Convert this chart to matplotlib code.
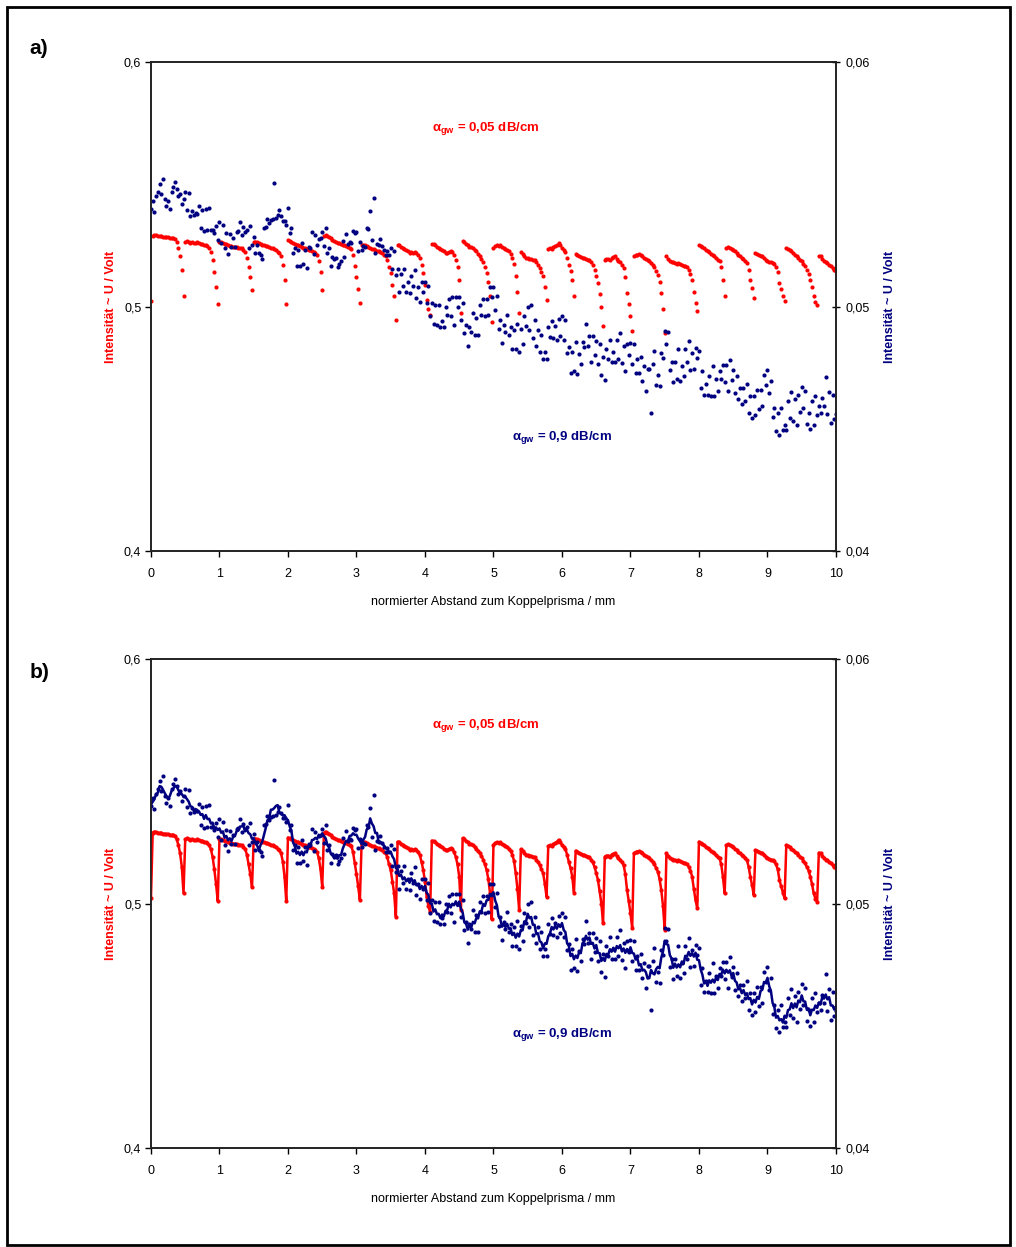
import numpy as np
import pandas as pd
import matplotlib
matplotlib.use('Agg')
import matplotlib.pyplot as plt

plt.rcParams['font.family'] = ['Liberation Sans', 'DejaVu Sans']
plt.rcParams['mathtext.fontset'] = 'custom'
plt.rcParams['mathtext.rm'] = 'Liberation Sans:bold'
plt.rcParams['mathtext.it'] = 'Liberation Sans:bold'
plt.rcParams['mathtext.bf'] = 'Liberation Sans:bold'

RED = '#ff0000'
NAVY = '#000080'

# Abstand zwischen zwei Messpunkten in mm
x_step = 0.025

# alpha_gw = 0,05 dB/cm, linke Achse, Einheit 0,1 mV
red_raw = [
    5024,
    5290, 5294, 5292, 5290, 5288, 5289, 5286, 5285, 5283, 5284, 5282, 5280, 5281, 5276, 5262, 5240, 5205, 5150, 5042,
    5262, 5266, 5263, 5260, 5264, 5261, 5258, 5262, 5259, 5256, 5257, 5253, 5250, 5246, 5238, 5222, 5190, 5140, 5080, 5010,
    5265, 5262, 5258, 5256, 5254, 5250, 5247, 5248, 5245, 5242, 5243, 5240, 5241, 5238, 5232, 5224, 5200, 5160, 5120, 5066,
    5262, 5265, 5262, 5258, 5255, 5252, 5250, 5248, 5246, 5244, 5240, 5238, 5234, 5230, 5224, 5218, 5205, 5171, 5110, 5011,
    5270, 5266, 5262, 5258, 5255, 5252, 5250, 5247, 5244, 5240, 5238, 5236, 5232, 5230, 5226, 5222, 5218, 5210, 5185, 5140, 5069,
    5288, 5294, 5290, 5285, 5279, 5273, 5268, 5264, 5261, 5258, 5256, 5252, 5250, 5247, 5244, 5240, 5236, 5210, 5165, 5120, 5070, 5014,
    5250, 5253, 5250, 5246, 5243, 5240, 5236, 5234, 5230, 5228, 5226, 5222, 5218, 5212, 5205, 5190, 5160, 5137, 5090, 5042, 4946,
    5253, 5250, 5245, 5240, 5236, 5232, 5226, 5220, 5222, 5218, 5221, 5219, 5210, 5198, 5170, 5137, 5090, 5028, 4990, 4966,
    5257, 5255, 5250, 5245, 5240, 5235, 5230, 5225, 5220, 5218, 5222, 5226, 5224, 5210, 5191, 5160, 5110, 4973,
    5267, 5262, 5255, 5250, 5245, 5242, 5239, 5232, 5225, 5215, 5205, 5195, 5180, 5160, 5137, 5100, 5042, 4935,
    5240, 5248, 5250, 5246, 5250, 5244, 5240, 5236, 5232, 5225, 5215, 5200, 5175, 5124, 5060, 4975,
    5222, 5215, 5208, 5200, 5198, 5196, 5194, 5192, 5190, 5180, 5170, 5157, 5140, 5124, 5080, 5028,
    5235, 5238, 5236, 5242, 5248, 5252, 5260, 5250, 5240, 5230, 5222, 5200, 5170, 5145, 5110, 5045,
    5216, 5212, 5208, 5204, 5200, 5198, 5195, 5192, 5190, 5180, 5168, 5150, 5125, 5096, 5050, 5000, 4919,
    5191, 5195, 5196, 5192, 5200, 5203, 5205, 5195, 5185, 5180, 5170, 5157, 5120, 5055, 5010, 4960, 4900,
    5205, 5210, 5212, 5214, 5210, 5205, 5200, 5195, 5190, 5185, 5178, 5171, 5160, 5145, 5130, 5100, 5055, 4990, 4892,
    5205, 5195, 5188, 5182, 5180, 5178, 5175, 5178, 5172, 5168, 5165, 5164, 5160, 5150, 5135, 5110, 5060, 5014, 4980,
    5253, 5248, 5244, 5238, 5232, 5228, 5222, 5216, 5212, 5205, 5198, 5190, 5185, 5160, 5110, 5042,
    5239, 5242, 5238, 5236, 5232, 5225, 5218, 5212, 5205, 5200, 5194, 5188, 5178, 5150, 5110, 5075, 5035,
    5219, 5216, 5212, 5208, 5205, 5200, 5192, 5185, 5182, 5180, 5178, 5172, 5160, 5140, 5096, 5070, 5045, 5021,
    5239, 5236, 5230, 5225, 5218, 5212, 5205, 5198, 5192, 5185, 5175, 5164, 5150, 5135, 5110, 5080, 5042, 5020, 5007,
    5208, 5205, 5195, 5188, 5180, 5178, 5170, 5165, 5158, 5150, 5145,
]

# alpha_gw = 0,9 dB/cm, rechte Achse, Einheit 0,01 mV
navy_raw = [
    5400, 5430, 5385, 5450, 5470, 5500, 5460, 5520, 5440, 5410, 5430, 5400, 5470, 5490, 5510, 5480, 5450, 5460, 5420, 5440,
    5469, 5394, 5463, 5370, 5389, 5374, 5381, 5380, 5409, 5323, 5393, 5307, 5397, 5311, 5401, 5311, 5312, 5301, 5328, 5272,
    5344, 5259, 5333, 5240, 5299, 5214, 5296, 5245, 5279, 5243, 5303, 5307, 5347, 5291, 5326, 5306, 5312, 5241, 5328, 5252,
    5284, 5219, 5253, 5220, 5209, 5194, 5321, 5325, 5359, 5343, 5353, 5357, 5507, 5361, 5376, 5396, 5372, 5351, 5348, 5332,
    5404, 5299, 5323, 5220, 5239, 5164, 5231, 5165, 5259, 5173, 5233, 5157, 5242, 5241, 5306, 5216, 5292, 5251, 5278, 5282,
    5304, 5249, 5323, 5220, 5239, 5164, 5201, 5195, 5199, 5163, 5173, 5187, 5267, 5201, 5296, 5256, 5262, 5261, 5308, 5302,
    5304, 5229, 5263, 5230, 5249, 5244, 5321, 5315, 5389, 5273, 5443, 5217, 5257, 5251, 5276, 5246, 5232, 5211, 5228, 5212,
    5240, 5155, 5225, 5130, 5155, 5060, 5135, 5085, 5155, 5060, 5100, 5055, 5125, 5085, 5150, 5035, 5080, 5020, 5100, 5060,
    5100, 5015, 5085, 4960, 5015, 4930, 5005, 4925, 5005, 4915, 4940, 4915, 5000, 4965, 5030, 4960, 5040, 4925, 5040, 5000,
    5040, 4945, 5015, 4890, 4925, 4840, 4915, 4895, 4975, 4885, 4955, 4885, 5005, 4965, 5030, 4960, 5030, 4965, 5080, 5040,
    5080, 4985, 5045, 4910, 4945, 4850, 4925, 4895, 4965, 4885, 4915, 4825, 4905, 4825, 4930, 4815, 4910, 4845, 4960, 4920,
    5000, 4905, 5005, 4870, 4945, 4840, 4905, 4815, 4885, 4785, 4815, 4785, 4915, 4875, 4940, 4870, 4920, 4865, 4950, 4880,
    4960, 4865, 4945, 4810, 4835, 4730, 4815, 4735, 4855, 4725, 4805, 4765, 4855, 4835, 4930, 4840, 4880, 4775, 4880, 4800,
    4860, 4765, 4845, 4720, 4795, 4700, 4825, 4785, 4865, 4775, 4815, 4775, 4865, 4785, 4890, 4770, 4840, 4735, 4845, 4800,
    4850, 4765, 4845, 4730, 4785, 4730, 4795, 4695, 4755, 4655, 4745, 4745, 4565, 4765, 4820, 4680, 4720, 4675, 4810, 4790,
    4900, 4845, 4895, 4740, 4775, 4690, 4775, 4705, 4825, 4695, 4755, 4715, 4825, 4775, 4860, 4740, 4810, 4745, 4830, 4790,
    4820, 4665, 4735, 4640, 4685, 4640, 4715, 4635, 4755, 4635, 4705, 4655, 4735, 4705, 4760, 4690, 4760, 4655, 4780, 4700,
    4740, 4645, 4715, 4620, 4665, 4600, 4665, 4615, 4685, 4565, 4635, 4545, 4635, 4555, 4660, 4580, 4660, 4595, 4720, 4680,
    4740, 4645, 4695, 4550, 4585, 4490, 4565, 4475, 4585, 4495, 4515, 4495, 4615, 4545, 4650, 4530, 4620, 4515, 4640, 4570,
    4670, 4585, 4655, 4520, 4565, 4500, 4615, 4515, 4635, 4555, 4595, 4565, 4625, 4595, 4710, 4560, 4650, 4525, 4640, 4540,
    4560,
]

x_ticks = list(range(11))
left_ticks = [0.4, 0.5, 0.6]
left_labels = ['0,4', '0,5', '0,6']
right_ticks = [0.04, 0.05, 0.06]
right_labels = ['0,04', '0,05', '0,06']

red = np.array(red_raw) / 10000.0
navy = np.array(navy_raw) / 100000.0
x_red = np.arange(len(red)) * x_step
x_navy = np.arange(len(navy)) * x_step
# gleitender Durchschnitt fuer Teilbild b)
navy_avg = pd.Series(navy).rolling(5, center=True, min_periods=1).mean()

fig = plt.figure(figsize=(10.16, 12.47), dpi=100)


def draw_panel(rect, letter, letter_y, with_lines):
    ax = fig.add_axes(rect)
    ax2 = ax.twinx()
    if with_lines:
        ax.plot(x_red, red, color=RED, lw=1.8, marker='o', ms=2, zorder=3)
        ax2.plot(x_navy, navy, 'o', color=NAVY, ms=3, mew=0)
        ax2.plot(x_navy, navy_avg, color=NAVY, lw=1.8)
    else:
        ax.plot(x_red, red, 'o', color=RED, ms=3, mew=0)
        ax2.plot(x_navy, navy, 'o', color=NAVY, ms=3, mew=0)

    ax.set_xlim(0, 10)
    ax.set_ylim(0.4, 0.6)
    ax2.set_ylim(0.04, 0.06)
    ax.set_xticks(x_ticks)
    ax.set_yticks(left_ticks)
    ax.set_yticklabels(left_labels)
    ax2.set_yticks(right_ticks)
    ax2.set_yticklabels(right_labels)
    ax.tick_params(axis='both', direction='out', length=4, width=1, labelsize=9, pad=3)
    ax2.tick_params(axis='y', direction='inout', length=6, width=1, labelsize=9, pad=4)
    ax.tick_params(axis='x', pad=8)
    for a in (ax, ax2):
        for s in a.spines.values():
            s.set_linewidth(1.2)
            s.set_color('#222222')

    ax.set_xlabel('normierter Abstand zum Koppelprisma / mm', fontsize=9, labelpad=12)
    ax.set_ylabel('Intensität ~ U / Volt', color=RED, fontsize=9, fontweight='bold', labelpad=5)
    ax2.set_ylabel('Intensität ~ U / Volt', color=NAVY, fontsize=9, fontweight='bold', labelpad=10)

    ax.text(4.1, 0.573, r'$\alpha_{gw}$ = 0,05 dB/cm', color=RED, fontsize=9.5,
            fontweight='bold', va='center')
    ax.text(5.27, 0.4466, r'$\alpha_{gw}$ = 0,9 dB/cm', color=NAVY, fontsize=9.5,
            fontweight='bold', va='center')
    fig.text(0.029, letter_y, letter, fontsize=15, fontweight='bold', va='center')


draw_panel([0.1486, 0.5581, 0.6742, 0.3922], 'a)', 1 - 48 / 1247, False)
draw_panel([0.1486, 0.0794, 0.6742, 0.3921], 'b)', 1 - 672 / 1247, True)

fig.add_artist(plt.Rectangle((0.007, 0.0016), 0.987, 0.9924, transform=fig.transFigure,
                             fill=False, lw=2, edgecolor='black'))

fig.savefig('out.png', dpi=100)
